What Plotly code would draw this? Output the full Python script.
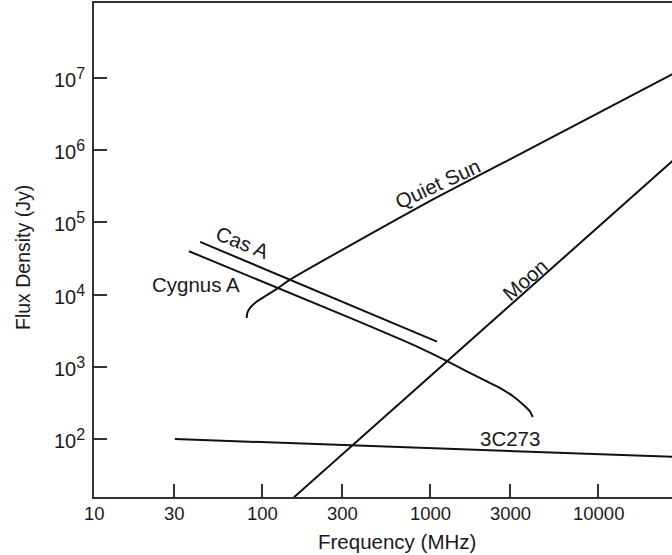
import numpy as np
import plotly.graph_objects as go

# ---- data (frequency in MHz, flux density in Jy) ----
sun_freq = [81.1, 81.7, 84.9, 90.8, 101.9, 122.4, 146.9, 1042, 2612, 31623]
sun_flux = [4750, 5570, 6550, 7670, 9180, 12000, 16140, 208000, 635000, 1.33e7]

casa_freq = [42.8, 1100]
casa_flux = [53800, 2230]

cyg_freq = [36.7, 334, 838, 1315, 2075, 2612, 3133, 3589, 3936, 4083]
cyg_flux = [39900, 4750, 1900, 1140, 662, 508, 388, 298, 240, 201]

moon_freq = [155, 31600]
moon_flux = [15.6, 9.3e5]

q3c273_freq = [30.3, 31600]
q3c273_flux = [100, 56]

x_tickvals = [10, 30, 100, 300, 1000, 3000, 10000]
x_ticktext = ["10", "30", "100", "300", "1000", "3000", "10000"]
y_tickvals = [1e2, 1e3, 1e4, 1e5, 1e6, 1e7]
y_exponents = ["2", "3", "4", "5", "6", "7"]
y_ticktext = ['10<sup><span style="font-size:16px">%s</span></sup>' % e for e in y_exponents]

# label positions (data coords) and angles
labels = ["Quiet Sun", "Cas A", "Cygnus A", "Moon", "3C273"]
label_freq = [1110, 77, 40.5, 3670, 2972]
label_flux = [347000, 52600, 13800, 16400, 100]
label_angle = [-25, 22, 0, -41, 0]

FONT = "Liberation Sans, Arial, Helvetica, sans-serif"
INK = "#1a1a1a"
LINE = "#111111"

fig = go.Figure()
for fx, fy in [(sun_freq, sun_flux), (casa_freq, casa_flux), (cyg_freq, cyg_flux),
               (moon_freq, moon_flux), (q3c273_freq, q3c273_flux)]:
    fig.add_trace(go.Scatter(x=fx, y=fy, mode="lines",
                             line=dict(color=LINE, width=2, shape="spline", smoothing=0.6),
                             showlegend=False, hoverinfo="skip"))

for t, fx, fy, a in zip(labels, label_freq, label_flux, label_angle):
    fig.add_annotation(x=np.log10(fx), y=np.log10(fy), xref="x", yref="y",
                       text=t, showarrow=False, textangle=a,
                       font=dict(family=FONT, size=20.5, color=INK),
                       xanchor="center", yanchor="middle")

# tick labels as annotations (precise placement)
for v, t in zip(y_tickvals, y_ticktext):
    fig.add_annotation(x=(87 - 94) / 578, y=np.log10(v), xref="paper", yref="y",
                       text=t, showarrow=False, xanchor="right", yanchor="middle",
                       font=dict(family=FONT, size=20, color=INK))
for v, t in zip(x_tickvals, x_ticktext):
    fig.add_annotation(x=np.log10(v), y=(497 - 513) / 494, xref="x", yref="paper",
                       text=t, showarrow=False, xanchor="center", yanchor="middle",
                       font=dict(family=FONT, size=18.5, color=INK))

fig.add_annotation(x=(397 - 94) / 578, y=(497 - 541) / 494, xref="paper", yref="paper",
                   text="Frequency (MHz)", showarrow=False,
                   font=dict(family=FONT, size=20.5, color=INK),
                   xanchor="center", yanchor="middle")
fig.add_annotation(x=(23 - 94) / 578, y=(497 - 258) / 494, xref="paper", yref="paper",
                   text="Flux Density (Jy)", showarrow=False, textangle=-90,
                   font=dict(family=FONT, size=19.5, color=INK),
                   xanchor="center", yanchor="middle")

fig.update_layout(
    width=672, height=555,
    margin=dict(l=94, r=0, t=3, b=58),
    paper_bgcolor="white", plot_bgcolor="white",
    xaxis=dict(type="log", range=[1, 4.44], tickvals=x_tickvals, showticklabels=False,
               ticks="inside", ticklen=13, tickwidth=2, tickcolor="#333",
               showline=True, linewidth=2, linecolor="#333", mirror=True,
               showgrid=False, zeroline=False),
    yaxis=dict(type="log", range=[1.196, 8.04], tickvals=y_tickvals, showticklabels=False,
               ticks="inside", ticklen=13, tickwidth=2, tickcolor="#333",
               showline=True, linewidth=2, linecolor="#333", mirror=False,
               showgrid=False, zeroline=False),
)

fig.write_html("out.html", config={"displayModeBar": False},
               post_script="document.body.style.margin='0';document.body.style.overflow='hidden';")
